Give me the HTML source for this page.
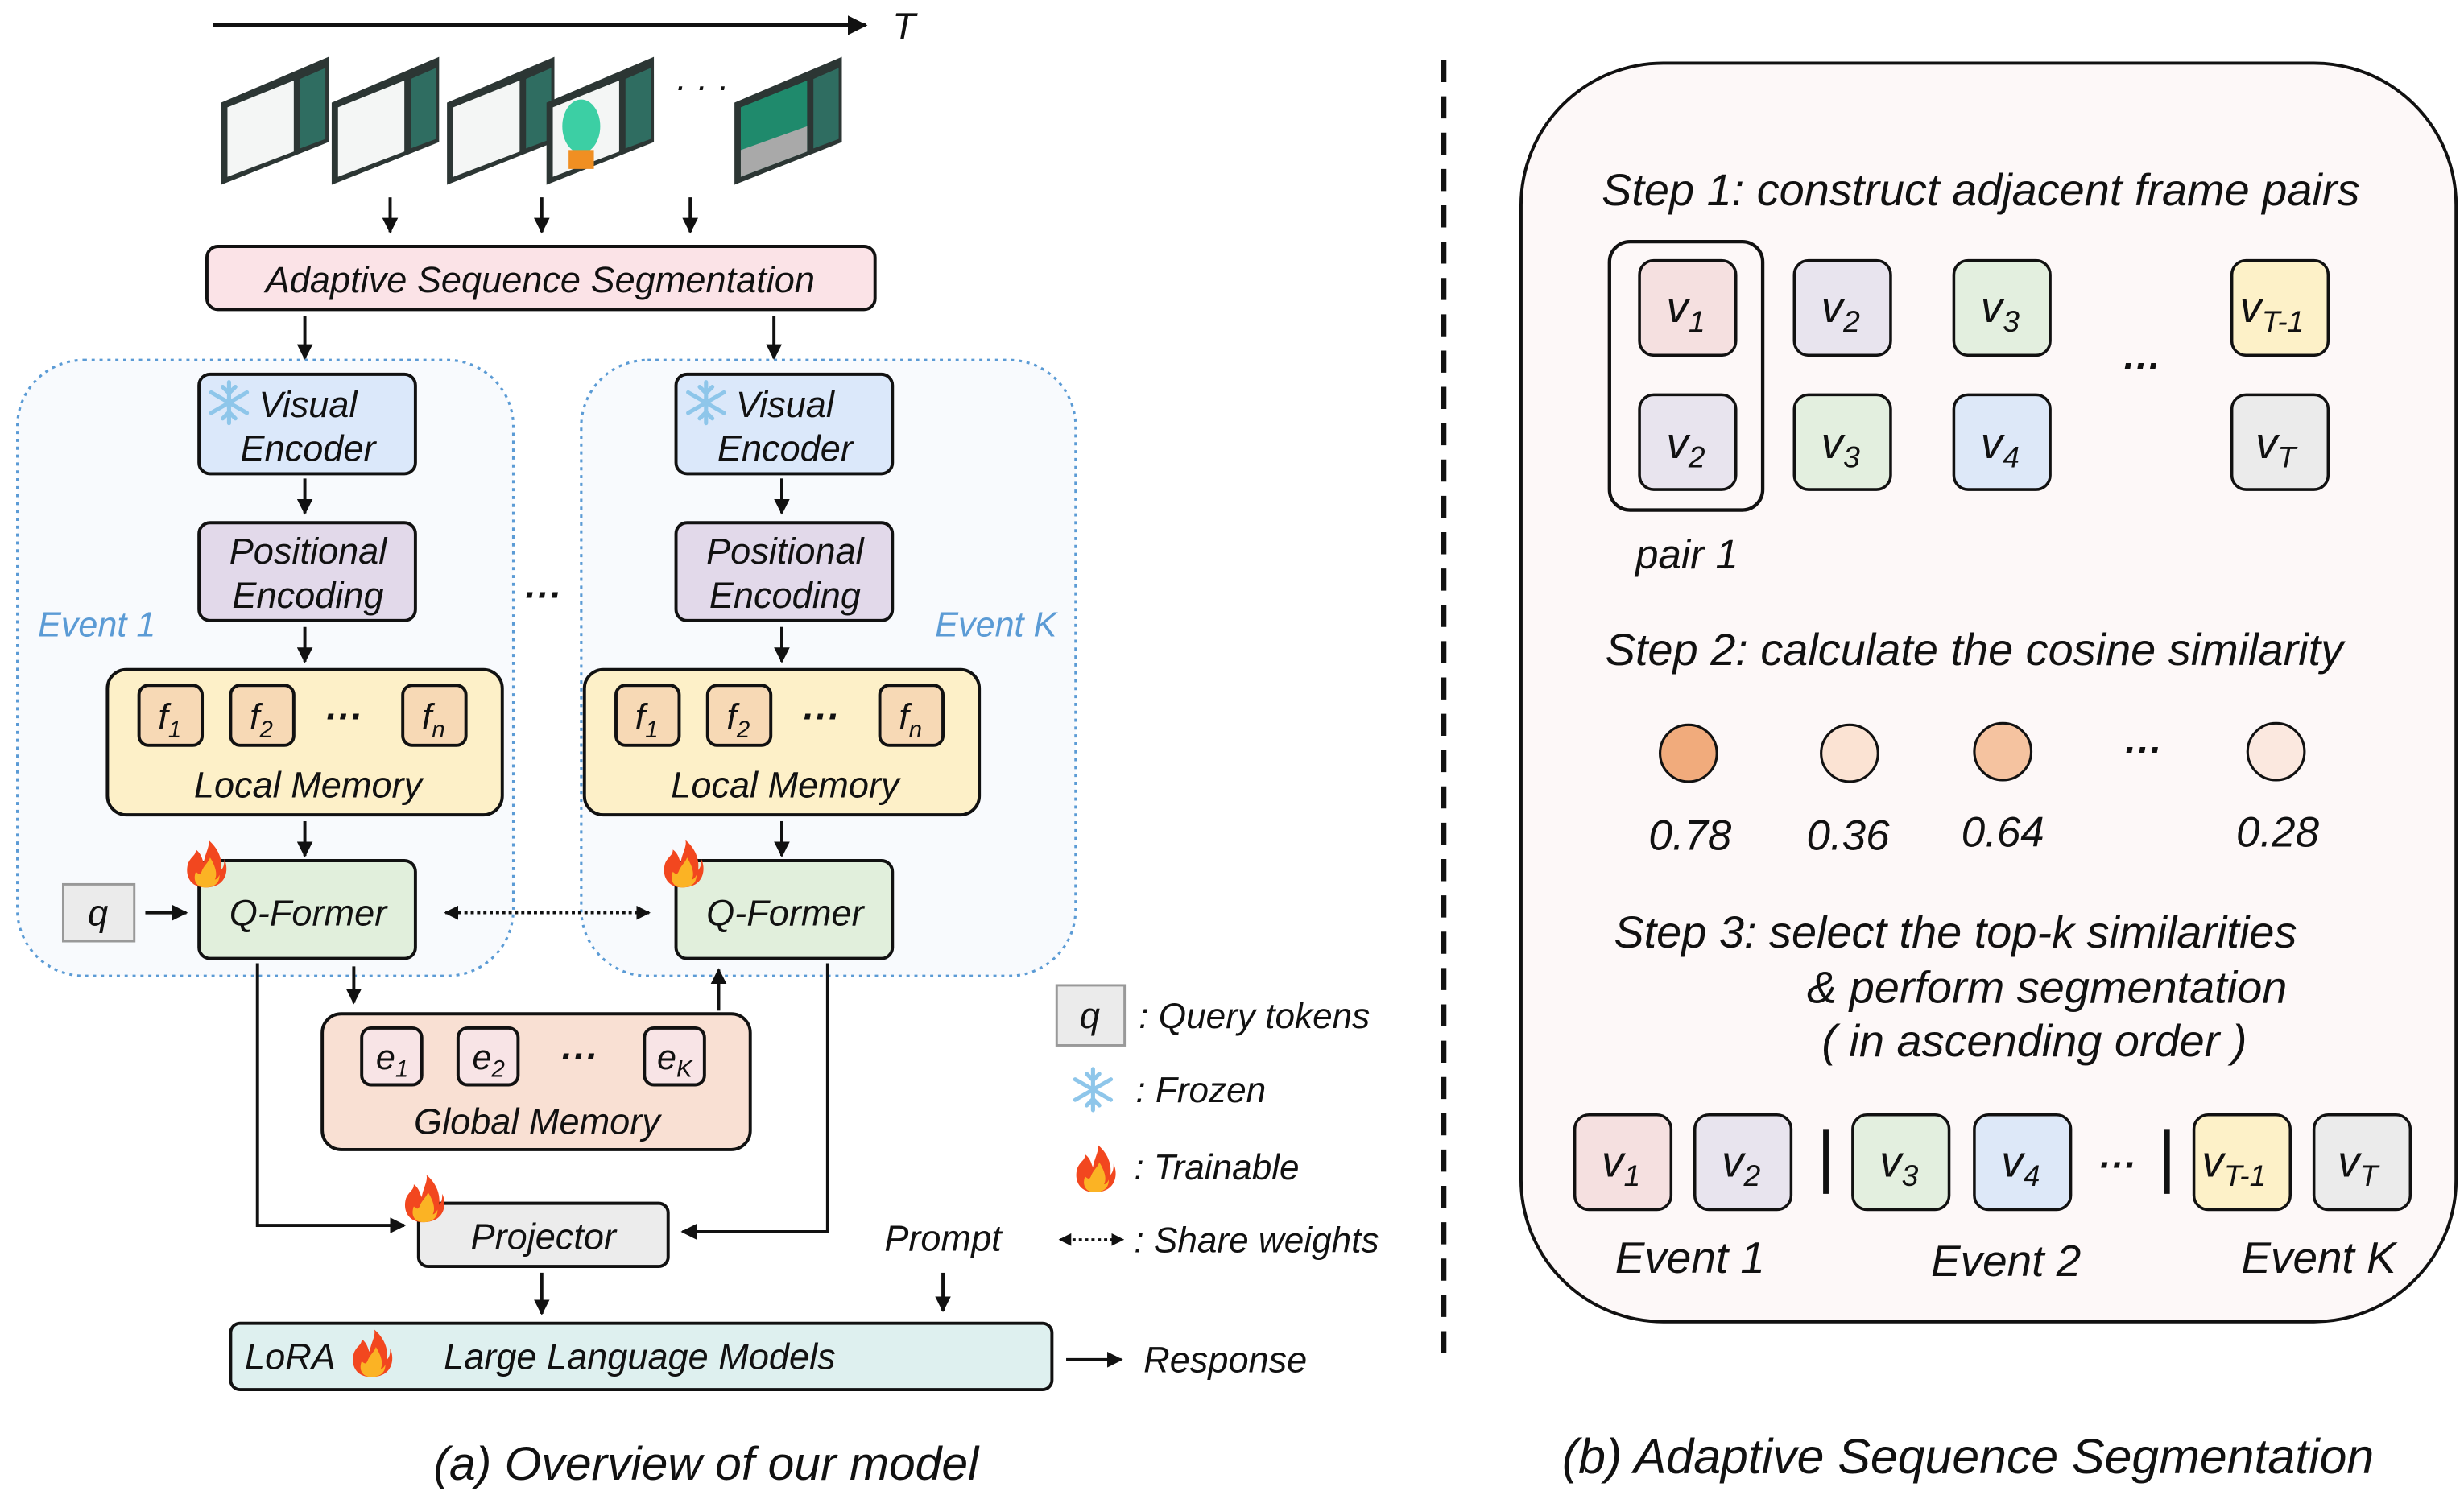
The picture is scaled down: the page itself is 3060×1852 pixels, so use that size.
<!DOCTYPE html>
<html><head><meta charset="utf-8"><style>
html,body{margin:0;padding:0;background:#fff}
svg{display:block}
text{font-family:"Liberation Sans",sans-serif;font-style:italic;fill:#111}
</style></head><body>
<svg width="3060" height="1852" viewBox="0 0 1560 944.2" preserveAspectRatio="none" xmlns="http://www.w3.org/2000/svg">
<defs>
<marker id="ah" viewBox="0 0 10 10" refX="9" refY="5" markerWidth="5" markerHeight="5" orient="auto-start-reverse"><path d="M0,0 L10,5 L0,10 z" fill="#111"/></marker>
<g id="snow" stroke="#8ec6ea" stroke-width="2.6" stroke-linecap="round">
<line x1="0" y1="-13" x2="0" y2="13"/><line x1="-11.3" y1="-6.5" x2="11.3" y2="6.5"/><line x1="-11.3" y1="6.5" x2="11.3" y2="-6.5"/>
<path d="M-4,-10 L0,-6 L4,-10 M-4,10 L0,6 L4,10" fill="none"/>
</g>
<g id="fire">
<path d="M0,14 C-10,14 -13,6 -11,-1 C-9,-6 -6,-6 -6,-10 C-2,-7 -2,-3 -1,-2 C0,-8 3,-12 2,-16 C8,-11 11,-4 10,3 C12,1 12,-2 12,-4 C15,2 14,14 0,14 z" fill="#f2471f"/>
<path d="M0,14 C-6,14 -8,9 -6,4 C-4,6 -3,6 -2,3 C0,-1 2,-2 3,-5 C6,0 8,5 6,9 C7,9 8,8 9,6 C9,11 6,14 0,14 z" fill="#fbb324"/>
</g>
</defs>

<line x1="135" y1="16" x2="548" y2="16" stroke="#111" stroke-width="2.5" marker-end="url(#ah)"/>
<text x="565" y="25" font-size="24">T</text>

<g>
<polygon points="140,117 140,65 208,36 208,90" fill="#2c3634"/>
<polygon points="144,112 144,68 186,51 186,96" fill="#f4f6f5"/>
<polygon points="190,50 206,43 206,88 190,94" fill="#2f6d61"/>
<polygon points="210,117 210,65 278,36 278,90" fill="#2c3634"/>
<polygon points="214,112 214,68 256,51 256,96" fill="#f4f6f5"/>
<polygon points="260,50 276,43 276,88 260,94" fill="#2f6d61"/>
<polygon points="283,117 283,65 351,36 351,90" fill="#2c3634"/>
<polygon points="287,112 287,68 329,51 329,96" fill="#f4f6f5"/>
<polygon points="333,50 349,43 349,88 333,94" fill="#2f6d61"/>
<polygon points="346,117 346,65 414,36 414,90" fill="#2c3634"/>
<polygon points="350,112 350,68 392,51 392,96" fill="#f4f6f5"/>
<ellipse cx="368" cy="80" rx="12" ry="17" fill="#3ccfa4"/>
<rect x="360" y="95" width="16" height="12" fill="#f08f22"/>
<polygon points="396,50 412,43 412,88 396,94" fill="#2f6d61"/>
<polygon points="465,117 465,65 533,36 533,90" fill="#2c3634"/>
<polygon points="469,112 469,68 511,51 511,96" fill="#1f8a6c"/>
<polygon points="469,112 469,95 511,80 511,96" fill="#a9a9a9"/>
<polygon points="515,50 531,43 531,88 515,94" fill="#2f6d61"/>
<text x="427" y="62" font-size="22" font-style="normal">· · ·</text>
</g>

<g stroke="#111" stroke-width="2" marker-end="url(#ah)">
<line x1="247" y1="125" x2="247" y2="147"/>
<line x1="343" y1="125" x2="343" y2="147"/>
<line x1="437" y1="125" x2="437" y2="147"/>
<line x1="193" y1="200" x2="193" y2="227"/>
<line x1="490" y1="200" x2="490" y2="227"/>
</g>

<rect x="131" y="156" width="423" height="40" rx="7" fill="#fbe3e7" stroke="#111" stroke-width="2"/>
<text x="342" y="185" font-size="23" text-anchor="middle">Adaptive Sequence Segmentation</text>

<rect x="11" y="228" width="314" height="390" rx="42" fill="#f8fafd" stroke="#5b9bd5" stroke-width="1.6" stroke-dasharray="2,3"/>
<rect x="368" y="228" width="313" height="390" rx="42" fill="#f8fafd" stroke="#5b9bd5" stroke-width="1.6" stroke-dasharray="2,3"/>
<text x="24" y="403" font-size="22" style="fill:#5b9bd5">Event 1</text>
<text x="592" y="403" font-size="22" style="fill:#5b9bd5">Event K</text>
<text x="331" y="385" font-size="24" font-weight="bold" font-style="normal">···</text>

<g id="col">
<rect x="126" y="237" width="137" height="63" rx="7" fill="#dbe8fa" stroke="#111" stroke-width="2"/>
<use href="#snow" x="145" y="255"/>
<text x="195" y="264" font-size="23" text-anchor="middle">Visual</text>
<text x="195" y="292" font-size="23" text-anchor="middle">Encoder</text>
<line x1="193" y1="303" x2="193" y2="325" stroke="#111" stroke-width="2" marker-end="url(#ah)"/>
<rect x="126" y="331" width="137" height="62" rx="7" fill="#e2d9ea" stroke="#111" stroke-width="2"/>
<text x="195" y="357" font-size="23" text-anchor="middle">Positional</text>
<text x="195" y="385" font-size="23" text-anchor="middle">Encoding</text>
<line x1="193" y1="397" x2="193" y2="419" stroke="#111" stroke-width="2" marker-end="url(#ah)"/>
<rect x="68" y="424" width="250" height="92" rx="12" fill="#fdf0c8" stroke="#111" stroke-width="2"/>
<rect x="88" y="434" width="40" height="38" rx="6" fill="#f7d9b5" stroke="#111" stroke-width="2"/>
<rect x="146" y="434" width="40" height="38" rx="6" fill="#f7d9b5" stroke="#111" stroke-width="2"/>
<rect x="255" y="434" width="40" height="38" rx="6" fill="#f7d9b5" stroke="#111" stroke-width="2"/>
<text x="100" y="462" font-size="23">f<tspan font-size="15" dy="5">1</tspan></text>
<text x="158" y="462" font-size="23">f<tspan font-size="15" dy="5">2</tspan></text>
<text x="267" y="462" font-size="23">f<tspan font-size="15" dy="5">n</tspan></text>
<text x="205" y="462" font-size="24" font-weight="bold" font-style="normal">···</text>
<text x="195" y="505" font-size="23" text-anchor="middle">Local Memory</text>
<line x1="193" y1="520" x2="193" y2="542" stroke="#111" stroke-width="2" marker-end="url(#ah)"/>
<rect x="126" y="545" width="137" height="62" rx="7" fill="#e1efdc" stroke="#111" stroke-width="2"/>
<text x="195" y="586" font-size="23" text-anchor="middle">Q-Former</text>
<use href="#fire" x="130" y="548"/>
</g>
<use href="#col" x="302" y="0"/>

<rect x="40" y="560" width="45" height="36" fill="#ebebeb" stroke="#999" stroke-width="1.5"/>
<text x="62" y="586" font-size="23" text-anchor="middle">q</text>
<line x1="92" y1="578" x2="118" y2="578" stroke="#111" stroke-width="2" marker-end="url(#ah)"/>
<line x1="282" y1="578" x2="411" y2="578" stroke="#111" stroke-width="1.8" stroke-dasharray="2,2" marker-start="url(#ah)" marker-end="url(#ah)"/>

<polyline points="163,610 163,776 256,776" fill="none" stroke="#111" stroke-width="2" marker-end="url(#ah)"/>
<polyline points="524,610 524,780 432,780" fill="none" stroke="#111" stroke-width="2" marker-end="url(#ah)"/>
<line x1="224" y1="612" x2="224" y2="635" stroke="#111" stroke-width="2" marker-end="url(#ah)"/>
<line x1="455" y1="640" x2="455" y2="614" stroke="#111" stroke-width="2" marker-end="url(#ah)"/>

<rect x="204" y="642" width="271" height="86" rx="12" fill="#f9e0d3" stroke="#111" stroke-width="2"/>
<rect x="229" y="651" width="38" height="36" rx="6" fill="#f8e4e6" stroke="#111" stroke-width="2"/>
<rect x="290" y="651" width="38" height="36" rx="6" fill="#f8e4e6" stroke="#111" stroke-width="2"/>
<rect x="408" y="651" width="38" height="36" rx="6" fill="#f8e4e6" stroke="#111" stroke-width="2"/>
<text x="238" y="677" font-size="22">e<tspan font-size="15" dy="5">1</tspan></text>
<text x="299" y="677" font-size="22">e<tspan font-size="15" dy="5">2</tspan></text>
<text x="416" y="677" font-size="22">e<tspan font-size="15" dy="5">K</tspan></text>
<text x="354" y="677" font-size="24" font-weight="bold" font-style="normal">···</text>
<text x="340" y="718" font-size="23" text-anchor="middle">Global Memory</text>

<rect x="265" y="762" width="158" height="40" rx="6" fill="#ececec" stroke="#111" stroke-width="2"/>
<text x="344" y="791" font-size="23" text-anchor="middle">Projector</text>
<use href="#fire" x="268" y="760"/>
<line x1="343" y1="806" x2="343" y2="832" stroke="#111" stroke-width="2" marker-end="url(#ah)"/>
<text x="597" y="792" font-size="23" text-anchor="middle">Prompt</text>
<line x1="597" y1="806" x2="597" y2="830" stroke="#111" stroke-width="2" marker-end="url(#ah)"/>

<rect x="146" y="838" width="520" height="42" rx="6" fill="#def0ef" stroke="#111" stroke-width="2"/>
<text x="155" y="867" font-size="23">LoRA</text>
<use href="#fire" x="235" y="858"/>
<text x="405" y="867" font-size="23" text-anchor="middle">Large Language Models</text>
<line x1="675" y1="861" x2="710" y2="861" stroke="#111" stroke-width="2" marker-end="url(#ah)"/>
<text x="724" y="869" font-size="23">Response</text>

<text x="447" y="937" font-size="30" text-anchor="middle">(a) Overview of our model</text>

<rect x="669" y="624" width="43" height="38" fill="#ebebeb" stroke="#999" stroke-width="1.5"/>
<text x="690" y="651" font-size="23" text-anchor="middle">q</text>
<text x="721" y="651" font-size="22.5">: Query tokens</text>
<use href="#snow" x="692" y="690"/>
<text x="719" y="698" font-size="22.5">: Frozen</text>
<use href="#fire" x="693" y="741"/>
<text x="718" y="747" font-size="22.5">: Trainable</text>
<line x1="671" y1="785" x2="711" y2="785" stroke="#111" stroke-width="1.6" stroke-dasharray="2,2" marker-start="url(#ah)" marker-end="url(#ah)"/>
<text x="718" y="793" font-size="22.5">: Share weights</text>

<line x1="914" y1="38" x2="914" y2="866" stroke="#111" stroke-width="3.5" stroke-dasharray="14,9"/>

<rect x="963" y="40" width="592" height="797" rx="90" fill="#fdf8f8" stroke="#111" stroke-width="2"/>
<text x="1254" y="130" font-size="28.5" text-anchor="middle">Step 1: construct adjacent frame pairs</text>
<rect x="1019" y="153" width="97" height="170" rx="13" fill="none" stroke="#111" stroke-width="2.2"/>
<g stroke="#111" stroke-width="1.8">
<rect x="1038" y="165" width="61" height="60" rx="9" fill="#f5e0e0"/>
<rect x="1136" y="165" width="61" height="60" rx="9" fill="#e8e4ee"/>
<rect x="1237" y="165" width="61" height="60" rx="9" fill="#e3efdf"/>
<rect x="1413" y="165" width="61" height="60" rx="9" fill="#fdf1c8"/>
<rect x="1038" y="250" width="61" height="60" rx="9" fill="#e8e4ee"/>
<rect x="1136" y="250" width="61" height="60" rx="9" fill="#e3efdf"/>
<rect x="1237" y="250" width="61" height="60" rx="9" fill="#dde8f8"/>
<rect x="1413" y="250" width="61" height="60" rx="9" fill="#ebebeb"/>
</g>
<g font-size="28">
<text x="1055" y="204">v<tspan font-size="19" dy="6">1</tspan></text>
<text x="1153" y="204">v<tspan font-size="19" dy="6">2</tspan></text>
<text x="1254" y="204">v<tspan font-size="19" dy="6">3</tspan></text>
<text x="1418" y="204">v<tspan font-size="19" dy="6">T-1</tspan></text>
<text x="1055" y="290">v<tspan font-size="19" dy="6">2</tspan></text>
<text x="1153" y="290">v<tspan font-size="19" dy="6">3</tspan></text>
<text x="1254" y="290">v<tspan font-size="19" dy="6">4</tspan></text>
<text x="1428" y="290">v<tspan font-size="19" dy="6">T</tspan></text>
</g>
<text x="1343" y="240" font-size="24" font-weight="bold" font-style="normal">···</text>
<text x="1068" y="360" font-size="26" text-anchor="middle">pair 1</text>

<text x="1250" y="421" font-size="28.5" text-anchor="middle">Step 2: calculate the cosine similarity</text>
<g stroke="#111" stroke-width="1.6">
<circle cx="1069" cy="477" r="18" fill="#f1ab7c"/>
<circle cx="1171" cy="477" r="18" fill="#fbe3d3"/>
<circle cx="1268" cy="476" r="18" fill="#f5c3a0"/>
<circle cx="1441" cy="476" r="18" fill="#fbe8df"/>
</g>
<text x="1344" y="483" font-size="24" font-weight="bold" font-style="normal">···</text>
<g font-size="27" text-anchor="middle">
<text x="1070" y="538">0.78</text>
<text x="1170" y="538">0.36</text>
<text x="1268" y="536">0.64</text>
<text x="1442" y="536">0.28</text>
</g>

<text x="1238" y="600" font-size="28.5" text-anchor="middle">Step 3: select the top-k similarities</text>
<text x="1296" y="635" font-size="28.5" text-anchor="middle">&amp; perform segmentation</text>
<text x="1288" y="669" font-size="28.5" text-anchor="middle">( in ascending order )</text>

<g stroke="#111" stroke-width="1.8">
<rect x="997" y="706" width="61" height="60" rx="9" fill="#f5e0e0"/>
<rect x="1073" y="706" width="61" height="60" rx="9" fill="#e8e4ee"/>
<rect x="1173" y="706" width="61" height="60" rx="9" fill="#e3efdf"/>
<rect x="1250" y="706" width="61" height="60" rx="9" fill="#dde8f8"/>
<rect x="1389" y="706" width="61" height="60" rx="9" fill="#fdf1c8"/>
<rect x="1465" y="706" width="61" height="60" rx="9" fill="#ebebeb"/>
</g>
<line x1="1156" y1="715" x2="1156" y2="756" stroke="#111" stroke-width="3.5"/>
<line x1="1372" y1="715" x2="1372" y2="756" stroke="#111" stroke-width="3.5"/>
<text x="1328" y="746" font-size="24" font-weight="bold" font-style="normal">···</text>
<g font-size="28">
<text x="1014" y="745">v<tspan font-size="19" dy="6">1</tspan></text>
<text x="1090" y="745">v<tspan font-size="19" dy="6">2</tspan></text>
<text x="1190" y="745">v<tspan font-size="19" dy="6">3</tspan></text>
<text x="1267" y="745">v<tspan font-size="19" dy="6">4</tspan></text>
<text x="1394" y="745">v<tspan font-size="19" dy="6">T-1</tspan></text>
<text x="1480" y="745">v<tspan font-size="19" dy="6">T</tspan></text>
</g>
<g font-size="28" text-anchor="middle">
<text x="1070" y="806">Event 1</text>
<text x="1270" y="808">Event 2</text>
<text x="1468" y="806">Event K</text>
</g>

<text x="1246" y="933" font-size="31" text-anchor="middle">(b) Adaptive Sequence Segmentation</text>
</svg>
</body></html>
